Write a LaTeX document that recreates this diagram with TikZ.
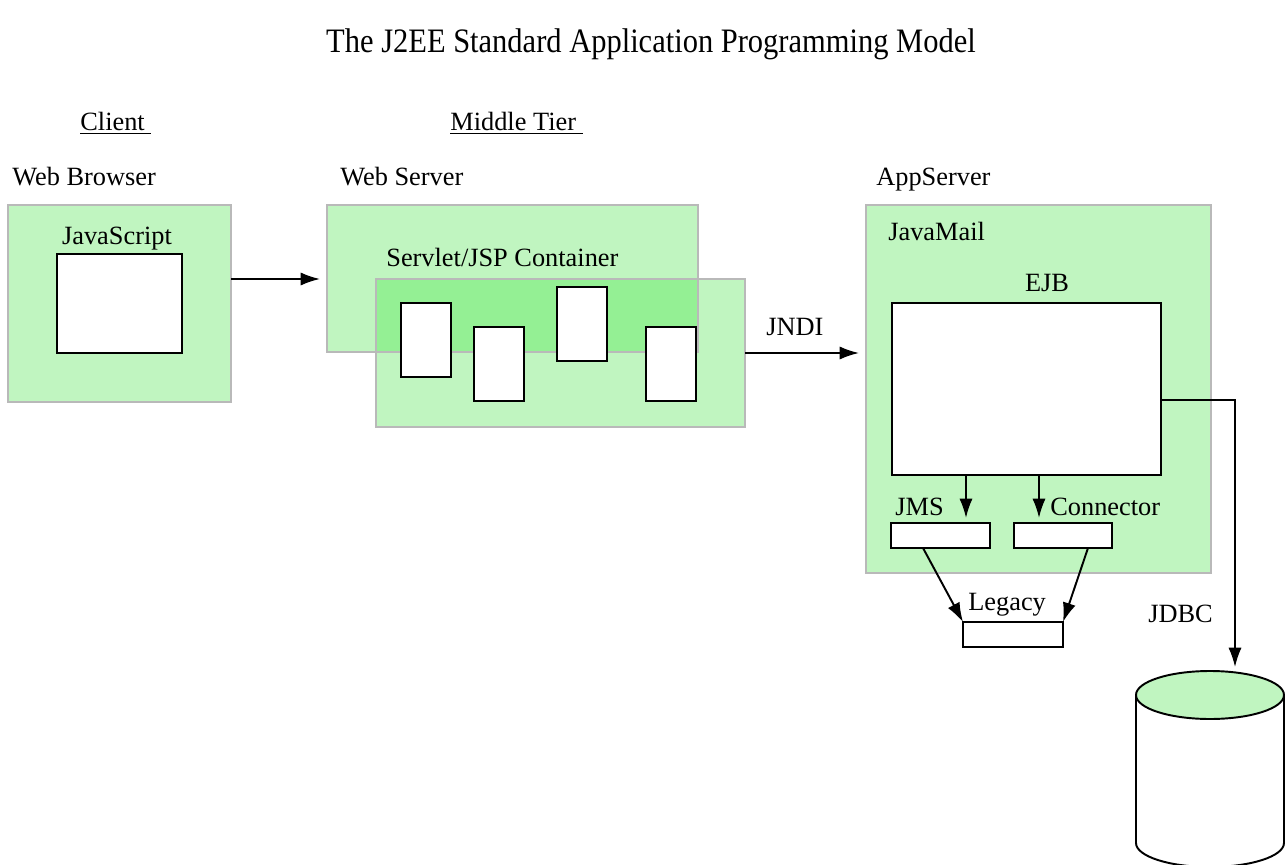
\documentclass[tikz,border=0pt]{standalone}
\usepackage{fontspec}
\setmainfont{Liberation Serif}
\usetikzlibrary{arrows.meta,calc}
\definecolor{lgreen}{RGB}{192,245,192}
\definecolor{dgreen}{RGB}{148,240,148}
\definecolor{bgray}{RGB}{185,185,185}
\tikzset{
  sz/.style 2 args={minimum width={#1*0.02cm}, minimum height={#2*0.02cm}},
  panefill/.style={fill=lgreen, inner sep=0, outer sep=0, anchor=north west},
  pane/.style={panefill, draw=bgray, line width=1.2pt},
  pb/.style={draw=bgray, line width=1.2pt},
  wbox/.style={draw=black, line width=1.4pt, fill=white, inner sep=0, outer sep=0, anchor=north west},
  lbl/.style={font=\fontsize{15}{18}\selectfont, inner sep=0, anchor=base west},
  arr/.style={-{Latex[length=11pt,width=7.5pt]}, line width=1.1pt},
}
\begin{document}
\begin{tikzpicture}[x=0.02cm, y=-0.02cm]
\fill[white] (0,0) rectangle (1286,865);
\useasboundingbox (0,0) rectangle (1286,865);

% title and tier headings
\node[font=\fontsize{19.5}{23}\selectfont, inner sep=0, anchor=base] (title) at (651,53) {\scalebox{0.89}[1]{The J2EE Standard Application Programming Model}};
\node[lbl] (client) at (80,131) {\underline{Client\ }};
\node[lbl] (middle) at (450,131) {\underline{Middle Tier\ }};
\node[lbl] (wbl) at (12,186) {Web Browser};
\node[lbl] (wsl) at (340,186) {Web Server};
\node[lbl] (asl) at (876,186) {AppServer};

% browser
\node[pane, sz={223}{197}] (browser) at (8,205) {};
\node[wbox, sz={125}{99}] (js) at (57,254) {};
\node[lbl, anchor=base] (jsl) at (117,245) {JavaScript};

% web server and container
\node[panefill, sz={371}{147}] (websrv) at (327,205) {};
\node[panefill, sz={369}{148}] (cont) at (376,279) {};
\fill[dgreen] (cont.north west) rectangle (websrv.south east);
\draw[pb] (websrv.north west) rectangle (websrv.south east);
\draw[pb] (cont.north west) rectangle (cont.south east);
\node[lbl] (contl) at (386,266) {Servlet/JSP Container};
\node[wbox, sz={50}{74}] (s1) at (401,303) {};
\node[wbox, sz={50}{74}] (s2) at (474,327) {};
\node[wbox, sz={50}{74}] (s3) at (557,287) {};
\node[wbox, sz={50}{74}] (s4) at (646,327) {};

% app server
\node[pane, sz={345}{368}] (app) at (866,205) {};
\node[lbl] (jml) at (888,240) {JavaMail};
\node[lbl, anchor=base] (ejbl) at (1047,292) {EJB};
\node[wbox, sz={269}{172}] (ejb) at (892,303) {};
\node[lbl] (jmsl) at (895,515) {JMS};
\node[lbl] (conl) at (1050,515) {Connector};
\node[wbox, sz={99}{25}] (jms) at (891,523) {};
\node[wbox, sz={98}{25}] (con) at (1014,523) {};

% legacy
\node[lbl] (legl) at (968,610) {Legacy};
\node[wbox, sz={100}{25}] (leg) at (963,622) {};

% database
\filldraw[fill=white, line width=1.1pt] (1136,695) -- (1136,843)
  arc[start angle=180, end angle=360, x radius=1.48cm, y radius=0.48cm] -- (1284,695) -- cycle;
\filldraw[fill=lgreen, line width=1.1pt] (1210,695) ellipse [x radius=1.48cm, y radius=0.48cm];
\coordinate (dbtop) at (1235,667);
\node[lbl] (jdbcl) at (1148,622) {JDBC};

% connectors
\draw[arr] ($(browser.north east)+(0,74)$) -- ($(websrv.north west)+(-7,74)$);
\node[lbl] (jndil) at (766,336) {JNDI};
\draw[arr] (cont.east) -- ($(cont.east -| app.west)+(-7,0)$);
\draw[arr] ($(ejb.south west)+(74,0)$) -- ($(jms.north west)+(75,-5)$);
\draw[arr] ($(ejb.south west)+(147,0)$) -- ($(con.north west)+(25,-5)$);
\draw[arr] ($(jms.south west)+(32,0)$) -- (leg.north west);
\draw[arr] ($(con.south west)+(74,0)$) -- (leg.north east);
\coordinate (ejbout) at ($(ejb.north east)+(0,97)$);
\draw[arr, line width=1pt] (ejbout) -| (dbtop);
\end{tikzpicture}
\end{document}
